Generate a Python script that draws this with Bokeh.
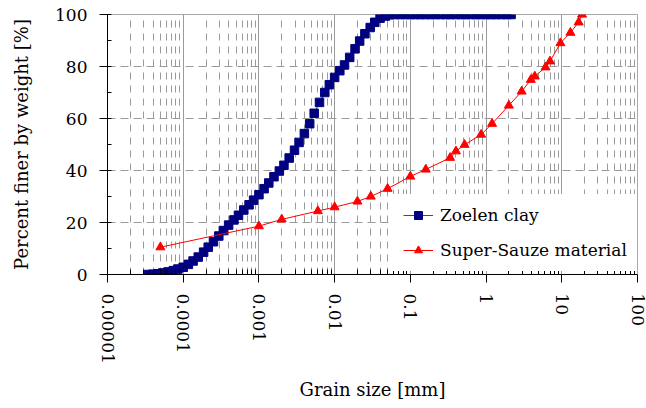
from bokeh.plotting import figure
from bokeh.models import (FixedTicker, CustomJSTickFormatter, Range1d, Legend, LegendItem)
from bokeh.embed import file_html
from bokeh.resources import INLINE

# Zoelen clay: grain size [mm] and percent finer by weight [%]
clay_size_mm = [
    3.47e-5, 3.98e-5, 4.68e-5, 5.37e-5, 6.31e-5, 7.41e-5, 8.51e-5,
    1.0e-4, 1.17e-4, 1.35e-4, 1.58e-4, 1.86e-4, 2.14e-4, 2.51e-4, 2.95e-4, 3.39e-4,
    3.98e-4, 4.68e-4, 5.37e-4, 6.31e-4, 7.41e-4, 8.51e-4,
    1.0e-3, 1.17e-3, 1.35e-3, 1.58e-3, 1.86e-3, 2.14e-3, 2.51e-3, 2.95e-3, 3.39e-3,
    3.98e-3, 4.68e-3, 5.37e-3, 6.31e-3, 7.41e-3, 8.51e-3,
    0.01, 0.0117, 0.0135, 0.0158, 0.0186, 0.0214, 0.0251, 0.0295, 0.0339,
    0.0398, 0.0468, 0.0537, 0.0631, 0.0741, 0.0851,
    0.1, 0.117, 0.135, 0.158, 0.186, 0.214, 0.251, 0.295, 0.339,
    0.398, 0.468, 0.537, 0.631, 0.741, 0.851,
    1.0, 1.17, 1.35, 1.58, 1.86, 2.14,
]
clay_finer_pct = [
    0.0, 0.1, 0.3, 0.6, 1.0, 1.5, 2.1,
    2.8, 3.9, 5.2, 6.7, 8.6, 10.5, 12.6, 14.8, 16.9,
    19.0, 21.0, 22.8, 24.8, 26.8, 28.6,
    30.7, 33.0, 35.2, 37.6, 39.8, 42.0, 44.8, 47.8, 50.8,
    54.2, 58.0, 62.0, 66.2, 70.0, 73.0,
    75.8, 78.4, 80.6, 83.5, 86.8, 89.8, 92.6, 95.0, 97.0,
    98.6, 99.4, 99.9, 100, 100, 100,
    100, 100, 100, 100, 100, 100, 100, 100, 100,
    100, 100, 100, 100, 100, 100,
    100, 100, 100, 100, 100, 100,
]

# Super-Sauze material
sauze_size_mm = [
    5.0e-5, 0.001, 0.002, 0.006, 0.01, 0.02, 0.03, 0.05, 0.1, 0.16,
    0.335, 0.4, 0.52, 0.86, 1.2, 2.0, 2.95, 3.9, 4.4, 6.1, 7.0, 9.6,
    13.0, 16.7, 18.5,
]
sauze_finer_pct = [
    10.5, 18.6, 21.2, 24.4, 25.9, 28.1, 30.0, 33.0, 37.7, 40.4,
    44.9, 47.4, 49.9, 53.8, 58.0, 65.0, 70.4, 74.9, 76.2, 79.7, 82.0, 89.0,
    93.0, 97.0, 100.0,
]

x_tick_values = [1e-5, 1e-4, 1e-3, 1e-2, 1e-1, 1, 10, 100]
x_tick_labels = ["0.00001", "0.0001", "0.001", "0.01", "0.1", "1", "10", "100"]
x_minor_values = [m * d for d in x_tick_values[:-1] for m in range(2, 10)]
y_tick_values = [0, 20, 40, 60, 80, 100]
y_minor_values = [10, 30, 50, 70, 90]

FONT = "DejaVu Serif"
GRID = "#9a9a9a"

p = figure(width=646, height=408, x_axis_type="log",
           x_range=Range1d(1e-5, 100), y_range=Range1d(0, 100),
           output_backend="svg", toolbar_location=None,
           min_border_left=107, min_border_right=9,
           min_border_top=14, min_border_bottom=134)
p.background_fill_color = "white"
p.border_fill_color = "white"
p.outline_line_color = "#a8a8a8"
p.outline_line_width = 1

# axes
p.xaxis.ticker = FixedTicker(ticks=x_tick_values, minor_ticks=x_minor_values)
p.xaxis.formatter = CustomJSTickFormatter(
    args=dict(vals=x_tick_values, labs=x_tick_labels),
    code="""
    for (let i = 0; i < vals.length; i++) {
        if (Math.abs(Math.log10(vals[i]) - Math.log10(tick)) < 1e-6) return labs[i];
    }
    return "";
    """)
p.xaxis.major_label_orientation = "vertical"
p.xaxis.axis_label = "Grain size [mm]"
p.xaxis.major_tick_out = 8
p.xaxis.major_tick_in = 0
p.xaxis.minor_tick_in = 5
p.xaxis.minor_tick_out = 0
p.xaxis.major_label_standoff = 11
p.xaxis.axis_label_standoff = 12

p.yaxis.ticker = FixedTicker(ticks=y_tick_values, minor_ticks=y_minor_values)
p.yaxis.axis_label = "Percent finer by weight [%]"
p.yaxis.major_tick_out = 8
p.yaxis.major_tick_in = 4
p.yaxis.minor_tick_in = 4
p.yaxis.minor_tick_out = 0
p.yaxis.major_label_standoff = 12
p.yaxis.axis_label_standoff = 20

for ax in (p.xaxis, p.yaxis):
    ax.axis_line_color = "black"
    ax.axis_line_width = 1
    ax.major_tick_line_color = "black"
    ax.minor_tick_line_color = "black"
    ax.major_label_text_font = FONT
    ax.major_label_text_font_size = "17px"
    ax.major_label_text_color = "black"
    ax.axis_label_text_font = FONT
    ax.axis_label_text_font_size = "18px"
    ax.axis_label_text_font_style = "normal"
    ax.axis_label_text_color = "black"

# grid
p.xgrid.grid_line_color = GRID
p.xgrid.grid_line_width = 1
p.xgrid.minor_grid_line_color = GRID
p.xgrid.minor_grid_line_dash = "7 6"
p.ygrid.grid_line_color = GRID
p.ygrid.grid_line_dash = "8 5"

# series
clay_line = p.line(clay_size_mm, clay_finer_pct, line_color="#008000", line_width=1)
clay_pts = p.scatter(clay_size_mm, clay_finer_pct, marker="square", size=8.5,
                     fill_color="#000080", line_color="#000080")
sauze_line = p.line(sauze_size_mm, sauze_finer_pct, line_color="#ff0000", line_width=1)
sauze_pts = p.scatter(sauze_size_mm, sauze_finer_pct, marker="triangle", size=9,
                      fill_color="#ff0000", line_color="#ff0000")

legend = Legend(items=[
    LegendItem(label="Zoelen clay", renderers=[clay_line, clay_pts]),
    LegendItem(label="Super-Sauze material", renderers=[sauze_line, sauze_pts]),
], location=(285, 3))
legend.label_text_font = FONT
legend.label_text_font_size = "17px"
legend.label_text_color = "black"
legend.glyph_width = 30
legend.glyph_height = 20
legend.label_height = 20
legend.label_standoff = 7
legend.spacing = 15
legend.padding = 11
legend.margin = 0
legend.border_line_alpha = 0
legend.background_fill_color = "white"
legend.background_fill_alpha = 1
p.add_layout(legend, "center")

open("out.html", "w").write(file_html(p, INLINE))
